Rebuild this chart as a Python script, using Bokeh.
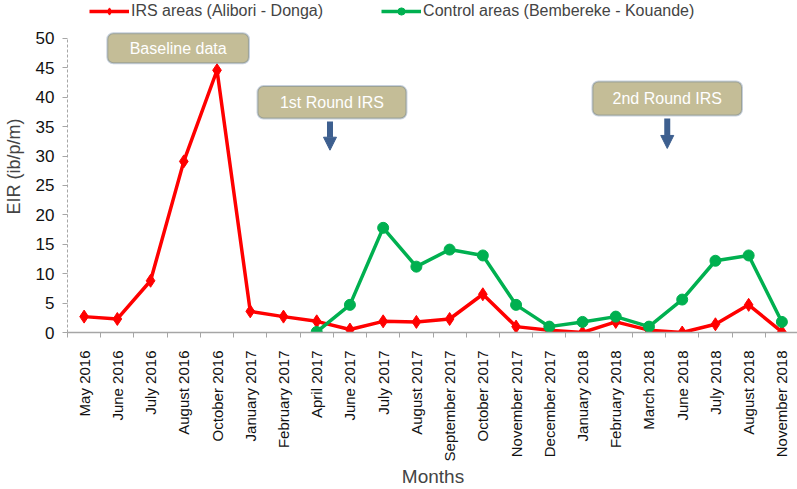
import math
from bokeh.plotting import figure
from bokeh.models import (FixedTicker, Legend, LegendItem, BoxAnnotation, Label,
                          Arrow, NormalHead, Range1d)
from bokeh.embed import file_html
from bokeh.resources import INLINE

months = ["May 2016", "June 2016", "July 2016", "August 2016", "October 2016",
          "January 2017", "February 2017", "April 2017", "June 2017", "July 2017",
          "August 2017", "September 2017", "October 2017", "November 2017",
          "December 2017", "January 2018", "February 2018", "March 2018",
          "June 2018", "July 2018", "August 2018", "November 2018"]

irs_values = [2.7, 2.3, 8.8, 29.1, 44.6, 3.6, 2.7, 1.9, 0.5, 1.9, 1.8, 2.3, 6.5,
              1.0, 0.4, 0.0, 1.8, 0.4, 0.0, 1.4, 4.7, 0.1]

control_months = ["April 2017", "June 2017", "July 2017", "August 2017",
                  "September 2017", "October 2017", "November 2017", "December 2017",
                  "January 2018", "February 2018", "March 2018", "June 2018",
                  "July 2018", "August 2018", "November 2018"]
control_values = [0.1, 4.7, 17.8, 11.2, 14.1, 13.1, 4.7, 1.0, 1.8, 2.7, 1.0, 5.6,
                  12.2, 13.1, 1.8]

y_ticks = [0, 5, 10, 15, 20, 25, 30, 35, 40, 45, 50]

FONT = "Liberation Sans"
RED = "#ff0000"
GREEN = "#00b050"
BOX_FILL = "#c4bd97"
BOX_LINE = "#41628f"
ARROW_COL = "#3d5f8f"

x_irs = [months.index(m) + 0.5 for m in months]
x_ctrl = [months.index(m) + 0.5 for m in control_months]

p = figure(frame_width=731, frame_height=332, output_backend="svg",
           toolbar_location=None,
           x_range=Range1d(0, len(months)), y_range=Range1d(0, 56.46),
           min_border_left=66, min_border_right=0, min_border_top=0,
           min_border_bottom=0)
p.outline_line_color = None
p.xgrid.visible = False
p.ygrid.visible = False

r1 = p.line(x_irs, irs_values, line_color=RED, line_width=3.5)
r1p = p.scatter(x_irs, irs_values, marker="diamond", size=13, fill_color=RED,
                line_color=RED)
r2 = p.line(x_ctrl, control_values, line_color=GREEN, line_width=3.5)
r2p = p.scatter(x_ctrl, control_values, marker="circle", size=11,
                fill_color=GREEN, line_color=GREEN)

# Y axis
p.yaxis.ticker = FixedTicker(ticks=y_ticks)
p.yaxis.bounds = (0, 50)
p.yaxis.axis_line_color = "#a6a6a6"
p.yaxis.axis_line_dash = "3 2"
p.yaxis.major_tick_line_color = "#a6a6a6"
p.yaxis.major_tick_out = 5
p.yaxis.major_tick_in = 0
p.yaxis.minor_tick_line_color = None
p.yaxis.major_label_text_font = FONT
p.yaxis.major_label_text_font_size = "17px"
p.yaxis.major_label_text_color = "#111111"
p.yaxis.major_label_standoff = 8
p.yaxis.axis_label = "EIR (ib/p/m)"
p.yaxis.axis_label_text_font = FONT
p.yaxis.axis_label_text_font_style = "normal"
p.yaxis.axis_label_text_font_size = "18px"
p.yaxis.axis_label_standoff = 9

# X axis
centers = [i + 0.5 for i in range(len(months))]
bounds_ticks = list(range(len(months) + 1))
p.xaxis.ticker = FixedTicker(ticks=centers, minor_ticks=bounds_ticks)
p.xaxis.major_label_overrides = {c: m for c, m in zip(centers, months)}
p.xaxis.major_label_orientation = math.pi / 2
p.xaxis.major_tick_line_color = None
p.xaxis.major_tick_out = 0
p.xaxis.major_tick_in = 0
p.xaxis.minor_tick_line_color = "#a6a6a6"
p.xaxis.minor_tick_out = 5
p.xaxis.minor_tick_in = 0
p.xaxis.axis_line_color = "#a6a6a6"
p.xaxis.axis_line_width = 1.5
p.xaxis.major_label_text_font = FONT
p.xaxis.major_label_text_font_size = "15px"
p.xaxis.major_label_text_color = "#111111"
p.xaxis.major_label_standoff = 13
p.xaxis.axis_label = "Months"
p.xaxis.axis_label_text_font = FONT
p.xaxis.axis_label_text_font_style = "normal"
p.xaxis.axis_label_text_font_size = "19px"
p.xaxis.axis_label_standoff = 2

# Annotation boxes
boxes = [
    ("Baseline data", 1.2, 5.46, 45.8, 50.9),
    ("1st Round IRS", 5.72, 10.2, 36.4, 41.9),
    ("2nd Round IRS", 15.8, 20.3, 36.9, 42.7),
]
for text, l, r, b, t in boxes:
    p.add_layout(BoxAnnotation(left=l, right=r, bottom=b, top=t,
                               fill_color=BOX_FILL, fill_alpha=1.0,
                               line_color=BOX_LINE, line_width=2,
                               border_radius=6, level="overlay"))
    p.add_layout(Label(x=(l + r) / 2, y=(b + t) / 2, text=text,
                       text_align="center", text_baseline="middle",
                       text_color="white", text_font=FONT,
                       text_font_size="16px", level="overlay"))

for xa, ys, ye in [(7.9, 35.9, 31.0), (18.05, 36.4, 31.3)]:
    p.add_layout(Arrow(x_start=xa, y_start=ys, x_end=xa, y_end=ye,
                       line_color=ARROW_COL, line_width=6,
                       end=NormalHead(size=13, fill_color=ARROW_COL,
                                      line_color=ARROW_COL)))

legend = Legend(items=[
    LegendItem(label="IRS areas (Alibori - Donga)", renderers=[r1, r1p]),
    LegendItem(label="Control areas (Bembereke - Kouande)", renderers=[r2, r2p]),
], orientation="horizontal", location=(22, 312), padding=0, spacing=58,
    margin=0, border_line_color=None, background_fill_alpha=0,
    label_text_font=FONT, label_text_font_size="16px",
    glyph_width=40, glyph_height=18, label_height=18, label_standoff=2)
p.add_layout(legend)

open("out.html", "w").write(file_html(p, INLINE))
